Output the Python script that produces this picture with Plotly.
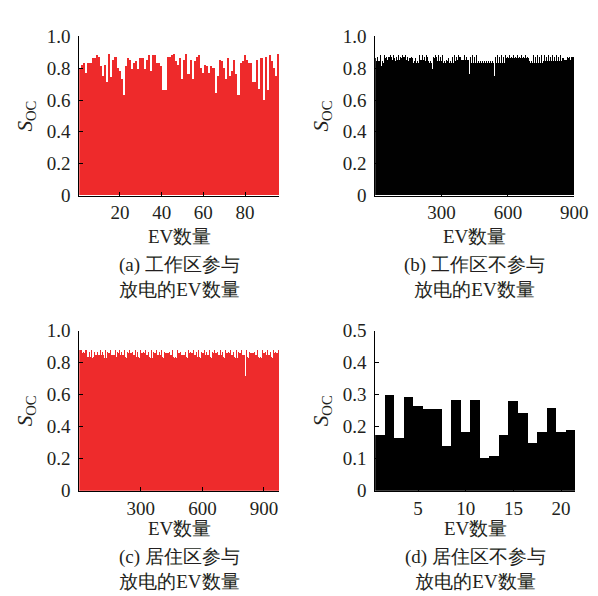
import plotly.graph_objects as go

# ---------------- data ----------------
soc_a = [0.80, 0.82, 0.83, 0.77, 0.83, 0.83, 0.86, 0.86, 0.88, 0.87, 0.81, 0.75,
         0.82, 0.71, 0.89, 0.74, 0.85, 0.87, 0.80, 0.78, 0.73, 0.63, 0.81, 0.86,
         0.85, 0.79, 0.83, 0.84, 0.79, 0.86, 0.86, 0.79, 0.85, 0.88, 0.78, 0.88,
         0.88, 0.83, 0.83, 0.81, 0.66, 0.66, 0.87, 0.87, 0.88, 0.89, 0.84, 0.82,
         0.86, 0.73, 0.85, 0.89, 0.76, 0.85, 0.73, 0.84, 0.87, 0.88, 0.80, 0.77,
         0.82, 0.81, 0.77, 0.81, 0.80, 0.64, 0.75, 0.85, 0.84, 0.80, 0.73, 0.86,
         0.75, 0.78, 0.85, 0.76, 0.63, 0.83, 0.84, 0.88, 0.85, 0.83, 0.83, 0.71,
         0.71, 0.85, 0.67, 0.86, 0.60, 0.87, 0.66, 0.88, 0.84, 0.80, 0.75, 0.89]

soc_b_pct = [
    88, 87, 86, 88, 85, 87, 84, 86, 88, 86, 83, 87, 85, 88, 86, 84, 87, 85, 86, 88, 84, 86, 87, 85, 88, 83, 86, 85, 87, 81,
    86, 88, 85, 84, 87, 86, 88, 85, 83, 86, 87, 84, 88, 86, 85, 87, 83, 86, 88, 84, 85, 87, 86, 88, 84, 86, 85, 87, 83, 86,
    87, 85, 88, 84, 86, 87, 85, 83, 86, 88, 85, 84, 79, 86, 87, 85, 88, 84, 86, 85, 87, 83, 86, 88, 84, 85, 87, 80, 86, 88,
    85, 87, 84, 86, 88, 85, 83, 87, 86, 84, 88, 85, 87, 86, 83, 85, 88, 86, 84, 87, 85, 86, 88, 83, 86, 87, 85, 84, 88, 86,
    84, 86, 87, 85, 88, 83, 86, 85, 87, 84, 86, 88, 85, 87, 84, 86, 83, 88, 85, 86, 87, 84, 85, 88, 86, 83, 87, 85, 86, 88,
    86, 84, 87, 85, 88, 86, 83, 85, 87, 84, 86, 88, 85, 84, 87, 86, 79, 85, 88, 86, 84, 87, 85, 83, 86, 88, 85, 87, 84, 86,
    87, 85, 86, 88, 84, 85, 87, 83, 86, 88, 85, 84, 87, 86, 85, 88, 83, 86, 87, 80, 85, 88, 86, 84, 87, 85, 86, 83, 88, 85,
    85, 87, 84, 86, 88, 85, 86, 83, 87, 85, 88, 84, 86, 87, 85, 83, 86, 88, 84, 85, 87, 86, 88, 84, 85, 86, 76, 87, 85, 88,
    86, 84, 88, 85, 87, 86, 83, 85, 88, 86, 84, 87, 85, 86, 88, 83, 85, 87, 86, 79, 84, 88, 85, 86, 87, 84, 85, 88, 86, 83,
    87, 85, 86, 88, 84, 86, 85, 87, 83, 86, 88, 85, 84, 87, 86, 85, 88, 83, 86, 87, 85, 84, 88, 86, 85, 87, 83, 86, 88, 85,
    84, 79, 87, 85, 88, 86, 84, 85, 87, 83, 86, 88, 85, 84, 87, 86, 88, 85, 83, 86, 87, 84, 85, 88, 86, 85, 87, 84, 86, 88,
    85, 87, 86, 84, 88, 85, 83, 86, 87, 85, 88, 84, 86, 85, 87, 83, 86, 88, 85, 84, 87, 86, 85, 88, 83, 86, 87, 85, 84, 88,
    86, 85, 87, 84, 86, 88, 80, 85, 87, 86, 83, 88, 85, 86, 84, 87, 85, 88, 86, 83, 85, 87, 86, 88, 84, 85, 87, 86, 83, 88,
    85, 86, 88, 84, 87, 85, 86, 83, 88, 85, 87, 86, 84, 85, 88, 86, 83, 87, 85, 86, 88, 84, 85, 87, 86, 83, 88, 85, 86, 87,
    84, 88, 85, 86, 87, 83, 76, 86, 85, 88, 84, 87, 86, 85, 88, 83, 86, 87, 85, 84, 88, 86, 85, 87, 83, 86, 88, 85, 84, 87,
    86, 85, 88, 83, 86, 87, 85, 84, 88, 86, 85, 80, 87, 83, 86, 88, 85, 84, 87, 86, 85, 88, 83, 86, 87, 85, 84, 88, 86, 85,
    87, 83, 86, 88, 85, 84, 87, 86, 85, 88, 83, 86, 87, 85, 84, 88, 86, 85, 87, 83, 86, 88, 85, 84, 87, 86, 85, 88, 83, 86,
    88, 85, 84, 87, 86, 85, 88, 83, 86, 87, 85, 84, 88, 86, 85, 87, 83, 86, 88, 85, 84, 87, 86, 85, 88, 83, 86, 87, 85, 75,
    86, 88, 85, 84, 87, 86, 85, 88, 83, 86, 87, 85, 84, 88, 86, 85, 87, 83, 86, 88, 85, 84, 87, 86, 79, 88, 83, 86, 87, 85,
    84, 88, 86, 85, 87, 83, 86, 88, 85, 84, 87, 86, 85, 88, 83, 86, 87, 85, 84, 88, 86, 85, 87, 83, 86, 88, 85, 84, 87, 86,
    85, 88, 83, 86, 87, 85, 84, 88, 86, 85, 87, 83, 86, 88, 85, 84, 87, 86, 85, 88, 83, 86, 87, 85, 84, 88, 86, 85, 87, 83,
    86, 88, 85, 84, 87, 86, 85, 79, 83, 86, 87, 85, 84, 88, 86, 85, 87, 83, 86, 88, 85, 84, 87, 86, 85, 88, 83, 86, 87, 85,
    84, 88, 86, 85, 87, 83, 86, 88, 85, 84, 87, 86, 85, 88, 83, 86, 87, 85, 84, 88, 86, 85, 87, 83, 86, 88, 85, 84, 87, 86,
    85, 88, 83, 86, 80, 87, 85, 84, 88, 86, 85, 87, 83, 86, 88, 85, 84, 87, 86, 85, 88, 83, 86, 87, 85, 84, 88, 86, 85, 87,
    83, 86, 88, 85, 84, 87, 86, 85, 88, 83, 86, 87, 85, 84, 88, 86, 85, 87, 83, 86, 88, 85, 84, 87, 86, 85, 88, 83, 86, 87,
    85, 84, 88, 86, 85, 87, 83, 86, 88, 79, 85, 84, 87, 86, 85, 88, 83, 86, 87, 85, 84, 88, 86, 85, 87, 83, 86, 88, 85, 84,
    87, 86, 85, 88, 83, 86, 87, 85, 84, 88, 86, 85, 87, 83, 86, 88, 85, 84, 87, 86, 85, 88, 83, 86, 87, 85, 84, 88, 86, 85,
    87, 83, 86, 88, 85, 84, 87, 86, 85, 88, 83, 86, 87, 85, 84, 88, 86, 85, 87, 83, 86, 88, 85, 84, 87, 86, 85, 88, 80, 86,
    85, 87, 84, 86, 85, 88, 83, 86, 87, 85, 84, 86, 85, 87, 83, 86, 85, 84, 87, 86, 85, 86, 83, 86, 87, 85, 84, 86, 85, 87,
    84, 86, 85, 87, 86, 84, 85, 86, 87, 85, 84, 86, 87, 85, 86, 84, 86, 87, 85, 86, 84, 85, 87, 86, 85, 86, 87, 85, 86, 87,
]

soc_c_pct = [
    87, 86, 88, 85, 87, 84, 86, 88, 85, 87, 86, 84, 88, 85, 86, 87, 83, 86, 88, 85, 84, 87, 86, 88, 85, 83, 86, 87, 88, 85,
    86, 88, 84, 87, 85, 86, 88, 83, 86, 87, 85, 84, 88, 86, 85, 87, 84, 86, 88, 85, 83, 87, 86, 85, 88, 84, 86, 87, 85, 86,
    88, 85, 84, 87, 86, 83, 88, 85, 86, 87, 84, 85, 88, 86, 83, 87, 85, 86, 88, 84, 85, 87, 86, 83, 88, 85, 86, 87, 84, 85,
    87, 86, 88, 83, 85, 86, 87, 84, 88, 85, 86, 87, 83, 85, 88, 86, 75, 84, 87, 85, 86, 88, 83, 86, 87, 85, 84, 88, 86, 85,
    86, 87, 85, 88, 83, 86, 87, 85, 84, 88, 86, 85, 87, 83, 86, 88, 85, 84, 87, 86, 85, 88, 83, 86, 87, 85, 84, 88, 86, 85,
    87, 83, 86, 88, 85, 84, 87, 86, 85, 88, 83, 86, 87, 85, 84, 88, 86, 85, 87, 83, 86, 88, 85, 84, 87, 86, 85, 88, 83, 86,
    85, 87, 84, 86, 88, 85, 83, 87, 86, 85, 88, 84, 86, 87, 85, 83, 86, 88, 85, 84, 87, 86, 85, 88, 83, 86, 87, 85, 84, 88,
    86, 85, 87, 83, 86, 88, 85, 84, 87, 86, 85, 88, 83, 86, 87, 85, 84, 88, 86, 85, 87, 83, 86, 88, 85, 84, 87, 86, 85, 88,
    83, 86, 87, 85, 84, 88, 86, 85, 87, 83, 86, 88, 85, 84, 87, 86, 85, 88, 83, 86, 87, 85, 84, 88, 86, 85, 87, 83, 86, 88,
    85, 84, 87, 86, 85, 88, 83, 86, 87, 85, 84, 88, 86, 85, 87, 83, 86, 88, 85, 84, 87, 86, 85, 88, 83, 86, 87, 85, 84, 88,
    86, 85, 66, 83, 86, 88, 85, 84, 87, 86, 85, 88, 83, 86, 87, 85, 84, 88, 86, 85, 87, 83, 86, 88, 85, 84, 87, 86, 85, 88,
    83, 86, 87, 85, 84, 88, 86, 85, 87, 83, 86, 88, 85, 84, 87, 86, 85, 88, 83, 86, 87, 85, 84, 88, 86, 85, 87, 83, 86, 88,
    85, 84, 87, 86, 85, 88, 83, 86, 87, 79, 84, 88, 86, 85, 87, 83, 86, 88, 85, 84, 87, 86, 85, 88, 83, 86, 87, 85, 84, 88,
    86, 85, 87, 83, 86, 88, 85, 84, 87, 86, 85, 88, 83, 86, 87, 85, 84, 88, 86, 85, 87, 83, 86, 88, 85, 84, 87, 86, 85, 88,
    83, 86, 87, 85, 84, 88, 86, 85, 87, 83, 86, 88, 85, 84, 87, 86, 85, 88, 83, 86, 87, 85, 84, 88, 86, 85, 87, 83, 86, 88,
    85, 84, 87, 86, 85, 88, 83, 86, 87, 85, 84, 88, 86, 85, 87, 83, 86, 88, 85, 84, 87, 86, 85, 88, 83, 86, 87, 85, 84, 88,
    86, 71, 87, 83, 86, 88, 85, 84, 87, 86, 85, 88, 83, 86, 87, 85, 84, 88, 86, 85, 87, 83, 86, 88, 85, 84, 87, 86, 85, 88,
    83, 86, 87, 85, 84, 88, 73, 85, 87, 83, 86, 88, 85, 84, 87, 86, 85, 88, 83, 86, 87, 85, 84, 88, 86, 85, 87, 83, 86, 88,
    85, 84, 87, 86, 85, 88, 83, 86, 87, 85, 84, 88, 86, 85, 87, 83, 86, 88, 85, 78, 87, 86, 85, 88, 83, 86, 87, 85, 84, 88,
    86, 85, 87, 83, 86, 88, 85, 84, 87, 86, 85, 88, 83, 86, 87, 85, 84, 88, 86, 85, 87, 83, 86, 88, 85, 84, 87, 86, 85, 88,
    83, 86, 87, 85, 84, 88, 86, 85, 87, 83, 86, 88, 85, 84, 87, 86, 85, 88, 83, 86, 87, 85, 84, 88, 86, 85, 87, 83, 86, 88,
    85, 84, 87, 86, 85, 88, 83, 86, 87, 85, 84, 88, 86, 85, 87, 83, 86, 88, 85, 84, 87, 86, 85, 88, 83, 86, 87, 85, 84, 88,
    86, 85, 87, 83, 86, 88, 85, 84, 87, 86, 85, 88, 83, 86, 87, 85, 84, 88, 86, 85, 87, 83, 86, 88, 85, 84, 87, 86, 85, 88,
    83, 86, 87, 85, 84, 88, 86, 85, 87, 83, 86, 88, 85, 84, 87, 86, 85, 88, 83, 86, 87, 85, 84, 88, 86, 85, 87, 83, 86, 88,
    85, 84, 87, 86, 85, 88, 83, 86, 87, 85, 84, 88, 86, 85, 87, 83, 86, 88, 85, 84, 87, 86, 85, 88, 83, 86, 87, 85, 84, 88,
    86, 85, 87, 83, 86, 88, 85, 84, 87, 86, 85, 88, 83, 86, 87, 85, 84, 88, 86, 85, 70, 83, 86, 88, 85, 84, 87, 86, 85, 88,
    83, 86, 87, 85, 84, 88, 86, 85, 87, 83, 86, 88, 85, 84, 87, 86, 85, 88, 83, 86, 87, 85, 84, 88, 86, 85, 87, 83, 86, 88,
    72, 84, 87, 86, 85, 88, 83, 86, 87, 85, 84, 88, 86, 85, 87, 83, 86, 88, 85, 84, 87, 86, 85, 88, 83, 86, 87, 85, 84, 88,
    86, 85, 87, 83, 86, 88, 85, 84, 87, 86, 85, 88, 83, 86, 87, 85, 84, 88, 86, 85, 87, 83, 86, 88, 85, 84, 87, 86, 85, 88,
    83, 86, 87, 85, 84, 88, 86, 85, 87, 83, 86, 88, 85, 84, 87, 86, 85, 88, 83, 86, 87, 85, 84, 88, 86, 85, 87, 83, 86, 88,
    85, 84, 87, 86, 85, 88, 72, 86, 87, 85, 84, 88, 86, 85, 87, 83, 86, 88, 85, 84, 87, 86, 85, 88, 83, 86, 87, 85, 84, 88,
    86, 85, 87, 83, 86, 88, 85, 84, 87, 86, 85, 88, 83, 86, 87, 85, 76, 88, 86, 85, 87, 83, 86, 88, 85, 84, 87, 86, 85, 88,
    83, 86, 87, 85, 84, 88, 86, 85, 87, 83, 86, 88, 85, 84, 87,
]

soc_d = [0.175, 0.30, 0.165, 0.295, 0.265, 0.255, 0.255, 0.14, 0.285, 0.185, 0.285,
         0.105, 0.11, 0.175, 0.28, 0.245, 0.15, 0.185, 0.26, 0.185, 0.19]

soc_b = [v / 100 for v in soc_b_pct]
soc_c = [v / 100 for v in soc_c_pct]

ticks_a = [20, 40, 60, 80]
ticks_bc = [300, 600, 900]
ticks_d = [5, 10, 15, 20]
yticks_1 = [0, 0.2, 0.4, 0.6, 0.8, 1.0]
ylabels_1 = ["0", "0.2", "0.4", "0.6", "0.8", "1.0"]
yticks_d = [0, 0.1, 0.2, 0.3, 0.4, 0.5]
ylabels_d = ["0", "0.1", "0.2", "0.3", "0.4", "0.5"]

xlabel = "EV数量"
captions = ["(a) 工作区参与<br>放电的EV数量", "(b) 工作区不参与<br>放电的EV数量",
            "(c) 居住区参与<br>放电的EV数量", "(d) 居住区不参与<br>放电的EV数量"]
ylabel = "<i>S</i><sub>OC</sub>"

RED = "rgb(238,42,43)"
BLACK = "rgb(0,0,0)"
# dense panels: near-opaque colour so plotly draws one bar per pixel column
RED_DENSE = "rgba(238,42,43,0.995)"
BLACK_DENSE = "rgba(0,0,0,0.995)"

# ---------------- layout helpers ----------------
W, H = 598, 596
FONT = '"Liberation Serif", "Times New Roman", Times, serif'
FS = 19
TXT = "#231F20"


def fx(px):
    return px / W


def fy(py):
    return 1 - py / H


panels = [
    # (x0, x1, ytop, ybottom) in pixels
    (73, 278, 19, 184),
    (376, 580, 19, 184),
    (73, 278, 324, 490),
    (376, 581, 324, 490),
]

fig = go.Figure()

series = [soc_a, soc_b, soc_c, soc_d]
colors = [RED, BLACK_DENSE, RED_DENSE, BLACK]
for i, (vals, col) in enumerate(zip(series, colors)):
    sfx = "" if i == 0 else str(i + 1)
    fig.add_trace(go.Bar(
        x=list(range(1, len(vals) + 1)), y=vals,
        marker=dict(color=col, line=dict(width=0)),
        width=1.0, xaxis="x" + sfx, yaxis="y" + sfx,
        showlegend=False, hoverinfo="skip",
    ))

xranges = [[0.5, len(soc_a) + 0.5], [0.5, len(soc_b) + 0.5],
           [0.5, len(soc_c) + 0.5], [0.5, len(soc_d) + 0.5]]
xticks = [ticks_a, ticks_bc, ticks_bc, ticks_d]
ytv = [yticks_1, yticks_1, yticks_1, yticks_d]
ytt = [ylabels_1, ylabels_1, ylabels_1, ylabels_d]
yranges = [[0, 1.0], [0, 1.0], [0, 1.0], [0, 0.5]]

layout = dict(
    width=W, height=H,
    margin=dict(l=0, r=0, t=0, b=0),
    paper_bgcolor="white", plot_bgcolor="white",
    bargap=0,
    font=dict(family=FONT, size=FS, color=TXT),
)

annotations = []
for i, (x0, x1, yt, yb) in enumerate(panels):
    sfx = "" if i == 0 else str(i + 1)
    layout["xaxis" + sfx] = dict(
        domain=[fx(x0), fx(x1)], anchor="y" + sfx, range=xranges[i],
        tickvals=xticks[i], ticks="inside", ticklen=4, tickcolor="black",
        showline=True, linecolor="black", linewidth=1,
        showgrid=False, zeroline=False, fixedrange=True,
        tickfont=dict(family=FONT, size=FS, color=TXT),
    )
    layout["yaxis" + sfx] = dict(
        domain=[fy(yb), fy(yt)], anchor="x" + sfx, range=yranges[i],
        tickvals=ytv[i], ticktext=ytt[i], ticks="inside", ticklen=4, tickcolor="black",
        ticklabelstandoff=4,
        showline=True, linecolor="black", linewidth=1,
        showgrid=False, zeroline=False, fixedrange=True,
        tickfont=dict(family=FONT, size=FS, color=TXT),
    )
    xc = (x0 + x1) / 2
    base = 0 if i < 2 else 303
    annotations.append(dict(text=xlabel, x=fx(xc), y=fy(226 + base), xref="paper", yref="paper",
                            xanchor="center", yanchor="middle", showarrow=False,
                            font=dict(family=FONT, size=FS, color=TXT)))
    annotations.append(dict(text=captions[i], x=fx(xc), y=fy(268 + base), xref="paper", yref="paper",
                            xanchor="center", yanchor="middle", showarrow=False,
                            font=dict(family=FONT, size=FS, color=TXT)))
    annotations.append(dict(text=ylabel, x=fx(x0 - 55), y=fy((yt + yb) / 2), xref="paper", yref="paper",
                            xanchor="center", yanchor="middle", showarrow=False, textangle=-90,
                            font=dict(family=FONT, size=FS + 2, color=TXT)))

layout["annotations"] = annotations
fig.update_layout(**layout)

fig.write_html("out.html")
